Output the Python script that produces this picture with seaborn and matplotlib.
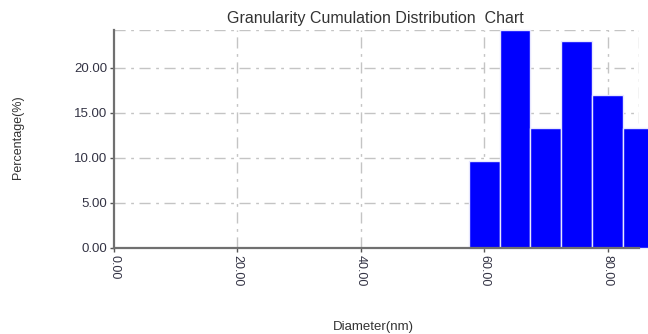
import matplotlib
matplotlib.use("Agg")
import matplotlib.pyplot as plt
import seaborn as sns
import numpy as np
import pandas as pd

# Data
diameters = [60, 65, 70, 75, 80, 85]          # bin centres (nm)
percentages = [9.67, 24.2, 13.3, 23.0, 16.97, 13.3]
bin_edges = [57.5, 62.5, 67.5, 72.5, 77.5, 82.5, 87.5]
x_ticks = [0, 20, 40, 60, 80]
y_ticks = [0, 5, 10, 15, 20]

sns.set_style("white")
plt.rcParams['font.family'] = ['Liberation Sans', 'DejaVu Sans']

df = pd.DataFrame({"Diameter": diameters, "Percentage": percentages})

fig = plt.figure(figsize=(6.48, 3.34), dpi=100)
ax = fig.add_axes([114/648, 1-248/334, (639-114)/648, (248-30)/334])

sns.histplot(data=df, x="Diameter", weights="Percentage", bins=bin_edges,
             color="#0000ff", alpha=1.0, edgecolor="#e8e8ff", linewidth=1.0,
             ax=ax, zorder=3)
for p in ax.patches:
    p.set_clip_on(False)

ax.set_xlim(0, 85.1)
ax.set_ylim(0, 24.2)
ax.set_xticks(x_ticks)
ax.set_yticks(y_ticks)
ax.set_xticklabels([f"{v:.2f}" for v in x_ticks], rotation=-90, fontsize=9, color="#333344")
ax.set_yticklabels([f"{v:.2f}" for v in y_ticks], fontsize=9.5, color="#333344")

grid_kw = dict(color="#c4c4c4", linewidth=1.0, dashes=(8, 4, 2, 4))
ax.grid(False)
for yv in y_ticks[1:] + [24.2]:
    ax.axhline(yv, zorder=1, **grid_kw)
for xv in x_ticks[1:] + [85.1]:
    ax.axvline(xv, zorder=1, **grid_kw)

for s in ["top", "right"]:
    ax.spines[s].set_visible(False)
for s in ["left", "bottom"]:
    ax.spines[s].set_color("#707070")
    ax.spines[s].set_linewidth(1.6)
    ax.spines[s].set_zorder(4)

ax.tick_params(axis="both", which="both", direction="out", length=3, width=1,
               color="#555555", pad=2, bottom=True, left=True)

ax.set_xlabel("")
ax.set_ylabel("")
fig.text(375.5/648, 1-18/334, "Granularity Cumulation Distribution  Chart",
         ha="center", va="center", fontsize=11.5, color="#333333")
fig.text(18/648, 1-137/334, "Percentage(%)", rotation=90,
         ha="center", va="center", fontsize=9, color="#333333")
fig.text(373/648, 1-327/334, "Diameter(nm)",
         ha="center", va="center", fontsize=9.5, color="#333333")

fig.savefig("out.png", dpi=100)
